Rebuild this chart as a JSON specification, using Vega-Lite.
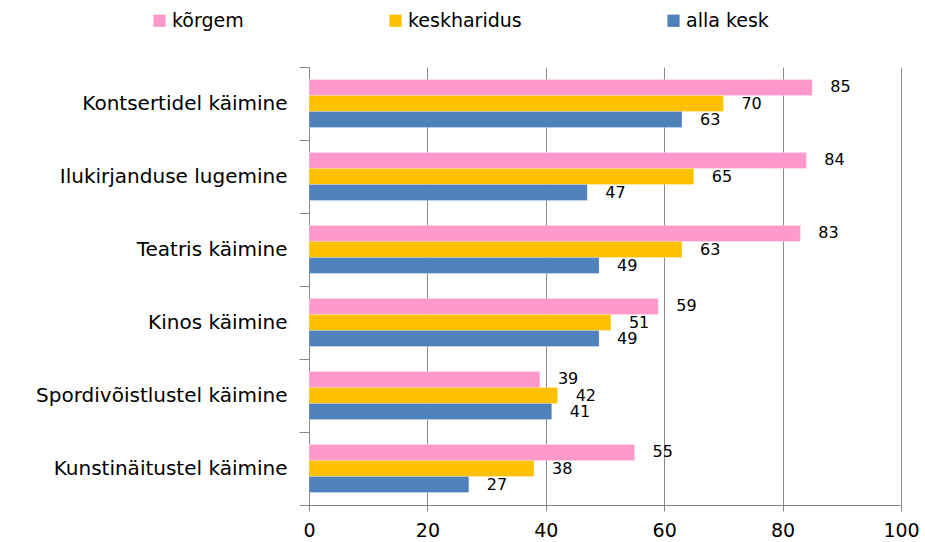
{
  "$schema": "https://vega.github.io/schema/vega-lite/v6.json",
  "width": 592,
  "height": 438,
  "autosize": {"type": "none"},
  "padding": {"left": 309, "top": 67, "right": 24, "bottom": 37},
  "config": {
    "view": {"stroke": null},
    "font": "DejaVu Sans",
    "axis": {"labelFont": "DejaVu Sans", "labelColor": "#000000"},
    "legend": {"labelFont": "DejaVu Sans", "labelColor": "#000000"}
  },
  "data": {
    "values": [
      {"cat": "Kontsertidel käimine", "series": "kõrgem", "value": 85},
      {"cat": "Kontsertidel käimine", "series": "keskharidus", "value": 70},
      {"cat": "Kontsertidel käimine", "series": "alla kesk", "value": 63},
      {"cat": "Ilukirjanduse lugemine", "series": "kõrgem", "value": 84},
      {"cat": "Ilukirjanduse lugemine", "series": "keskharidus", "value": 65},
      {"cat": "Ilukirjanduse lugemine", "series": "alla kesk", "value": 47},
      {"cat": "Teatris käimine", "series": "kõrgem", "value": 83},
      {"cat": "Teatris käimine", "series": "keskharidus", "value": 63},
      {"cat": "Teatris käimine", "series": "alla kesk", "value": 49},
      {"cat": "Kinos käimine", "series": "kõrgem", "value": 59},
      {"cat": "Kinos käimine", "series": "keskharidus", "value": 51},
      {"cat": "Kinos käimine", "series": "alla kesk", "value": 49},
      {"cat": "Spordivõistlustel käimine", "series": "kõrgem", "value": 39},
      {"cat": "Spordivõistlustel käimine", "series": "keskharidus", "value": 42},
      {"cat": "Spordivõistlustel käimine", "series": "alla kesk", "value": 41},
      {"cat": "Kunstinäitustel käimine", "series": "kõrgem", "value": 55},
      {"cat": "Kunstinäitustel käimine", "series": "keskharidus", "value": 38},
      {"cat": "Kunstinäitustel käimine", "series": "alla kesk", "value": 27}
    ]
  },
  "encoding": {
    "y": {
      "field": "cat",
      "type": "nominal",
      "sort": ["Kontsertidel käimine", "Ilukirjanduse lugemine", "Teatris käimine", "Kinos käimine", "Spordivõistlustel käimine", "Kunstinäitustel käimine"],
      "scale": {"paddingInner": 0, "paddingOuter": 0},
      "axis": {
        "title": null,
        "tickBand": "extent",
        "domainColor": "#888888",
        "tickColor": "#888888",
        "tickSize": 10,
        "labelFontSize": 20,
        "labelPadding": 12,
        "labelLimit": 0,
        "grid": false
      }
    },
    "yOffset": {
      "field": "series",
      "type": "nominal",
      "sort": ["kõrgem", "keskharidus", "alla kesk"],
      "scale": {"paddingInner": 0, "paddingOuter": 0.78}
    },
    "x": {
      "field": "value",
      "type": "quantitative",
      "scale": {"domain": [0, 100]},
      "axis": {
        "title": null,
        "values": [0, 20, 40, 60, 80, 100],
        "grid": true,
        "gridColor": "#8c8c8c",
        "domainColor": "#888888",
        "tickColor": "#888888",
        "tickSize": 6,
        "labelFontSize": 19,
        "labelFlush": false,
        "labelPadding": 10
      }
    }
  },
  "layer": [
    {
      "mark": {"type": "bar", "stroke": "#ffffff", "strokeOpacity": 0.4, "strokeWidth": 0.6},
      "encoding": {
        "color": {
          "field": "series",
          "type": "nominal",
          "scale": {"domain": ["kõrgem", "keskharidus", "alla kesk"], "range": ["#FF99CC", "#FFC000", "#4F81BD"]},
          "legend": {
            "title": null,
            "orient": "none",
            "direction": "horizontal",
            "legendX": -159,
            "legendY": -56,
            "symbolType": "square",
            "symbolSize": 150,
            "symbolStrokeWidth": 0,
            "labelFontSize": 19,
            "labelOffset": 3,
            "columnPadding": 142
          }
        }
      }
    },
    {
      "mark": {"type": "text", "align": "left", "baseline": "middle", "dx": 18, "fontSize": 16, "color": "#000000"},
      "encoding": {"text": {"field": "value", "type": "quantitative"}}
    }
  ]
}
